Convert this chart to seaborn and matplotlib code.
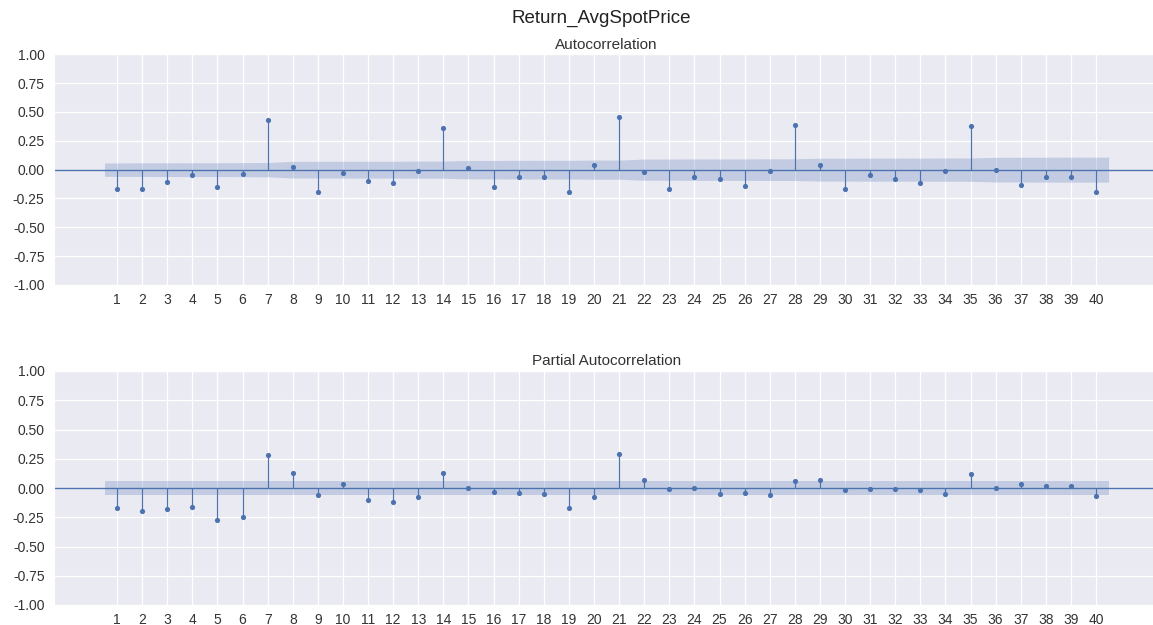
import numpy as np
import pandas as pd
import matplotlib
matplotlib.use("Agg")
import matplotlib.pyplot as plt
import seaborn as sns

# Values (lags 1..40)
lags = list(range(1, 41))

acf_values = [-0.17, -0.17, -0.11, -0.05, -0.15, -0.04, 0.43, 0.02, -0.19, -0.03,
              -0.10, -0.12, -0.01, 0.36, 0.01, -0.15, -0.06, -0.06, -0.19, 0.04,
              0.46, -0.02, -0.17, -0.06, -0.08, -0.14, -0.01, 0.39, 0.04, -0.17,
              -0.05, -0.08, -0.12, -0.01, 0.38, 0.00, -0.13, -0.06, -0.06, -0.19]

pacf_values = [-0.17, -0.20, -0.18, -0.16, -0.27, -0.25, 0.28, 0.13, -0.06, 0.03,
               -0.10, -0.12, -0.08, 0.13, 0.00, -0.03, -0.04, -0.05, -0.17, -0.08,
               0.29, 0.07, -0.01, 0.00, -0.05, -0.04, -0.06, 0.06, 0.07, -0.02,
               -0.01, -0.01, -0.02, -0.05, 0.12, 0.00, 0.03, 0.02, 0.02, -0.07]

# half-width of the 95% confidence band, read per lag
acf_band = [0.058, 0.059, 0.060, 0.060, 0.060, 0.061, 0.062, 0.072, 0.072, 0.073,
            0.073, 0.073, 0.074, 0.074, 0.080, 0.080, 0.081, 0.081, 0.081, 0.083,
            0.083, 0.092, 0.092, 0.093, 0.093, 0.093, 0.094, 0.094, 0.099, 0.099,
            0.100, 0.100, 0.100, 0.101, 0.101, 0.107, 0.107, 0.108, 0.108, 0.108]
pacf_band = [0.058] * 40

yticks = [-1.0, -0.75, -0.5, -0.25, 0.0, 0.25, 0.5, 0.75, 1.0]

title = "Return_AvgSpotPrice"
panel_titles = ["Autocorrelation", "Partial Autocorrelation"]


def plot_corr(ax, values, band, panel_title, color):
    df = pd.DataFrame({'Lag': lags, 'Corr': values})
    ax.vlines(df['Lag'], 0, df['Corr'], color=color, linewidth=0.85)
    ax.axhline(0, color=color, linewidth=1.0)
    sns.scatterplot(data=df, x='Lag', y='Corr', ax=ax, color=color,
                    s=14, linewidth=0, zorder=3)

    # band reaches half a lag beyond the first and last lag
    band_x = np.array(lags, dtype=float)
    band_x[0] -= 0.5
    band_x[-1] += 0.5
    band = np.asarray(band)
    ax.fill_between(band_x, -band, band, color=color, alpha=0.25, linewidth=0)

    ax.set_xlim(-1.5, 42.5)
    ax.set_ylim(-1, 1)
    ax.set_xticks(lags)
    ax.set_yticks(yticks)
    ax.set_yticklabels([f"{t:.2f}" for t in yticks])
    ax.set_xlabel("")
    ax.set_ylabel("")
    ax.set_title(panel_title, fontsize=11, pad=4, color='#333333')
    ax.tick_params(axis='both', labelsize=10, colors='#333333', length=0)
    ax.tick_params(axis='x', pad=6)
    ax.tick_params(axis='y', pad=7)
    ax.grid(True, color='white', linewidth=0.9)


def main():
    sns.set_style("darkgrid")
    plt.rcParams['font.family'] = ['Liberation Sans', 'DejaVu Sans']
    plt.rcParams['axes.unicode_minus'] = False

    color = sns.color_palette("deep")[0]

    fig = plt.figure(figsize=(11.53, 6.25), dpi=100)
    W, H = 1153.0, 625.0
    # the axes run slightly past the right border, as in the cropped reference
    ax1 = fig.add_axes([54.3 / W, 1 - 285 / H, 1104.5 / W, (285 - 54.3) / H])
    ax2 = fig.add_axes([54.3 / W, 1 - 605 / H, 1104.5 / W, (605 - 371) / H])

    plot_corr(ax1, acf_values, acf_band, panel_titles[0], color)
    plot_corr(ax2, pacf_values, pacf_band, panel_titles[1], color)

    fig.text(601 / W, 1 - 18 / H, title, ha='center', va='center',
             fontsize=13.5, color='#222222')

    fig.savefig("out.png", dpi=100)
    plt.close(fig)


if __name__ == '__main__':
    main()
